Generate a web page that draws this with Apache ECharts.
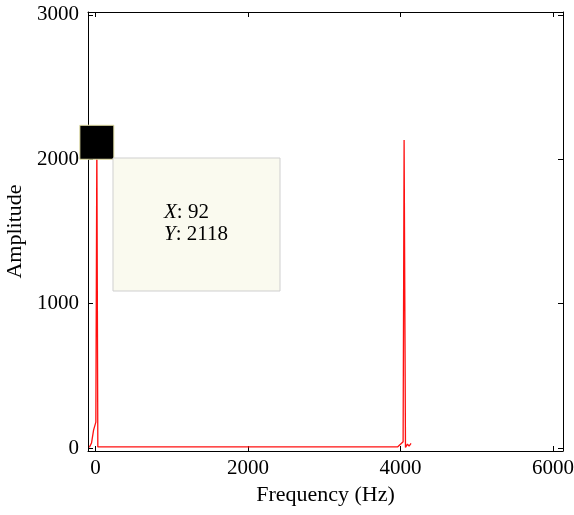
<!DOCTYPE html>
<html>
<head>
<meta charset="utf-8">
<script src="https://cdn.jsdelivr.net/npm/echarts@6/dist/echarts.min.js"></script>
<style>
  html, body { margin: 0; padding: 0; background: #fff; }
  #chart { width: 574px; height: 515px; }
</style>
</head>
<body>
<div id="chart"></div>
<script>
// Spectrum
const freq = [-82, -54, -27, 3, 16, 29, 500, 1000, 1500, 2000, 2500, 3000, 3500, 3900, 3960, 4033, 4046, 4064, 4090, 4111, 4137];
const amp  = [5, 35, 125, 180, 2118, 8, 8, 8, 8, 8, 8, 8, 8, 8, 8, 44, 2134, 5, 28, 14, 33];

// Data cursor
const cursorX = 16;
const cursorY = 2118;

const xTicks = [0, 2000, 4000, 6000];
const yTicks = [0, 1000, 2000, 3000];

const font = 'Liberation Serif';
const chart = echarts.init(document.getElementById('chart'));

const axisBase = {
  axisLine: { show: true, onZero: false, lineStyle: { color: '#000', width: 1 } },
  axisTick: { show: true, inside: true, length: 5, lineStyle: { color: '#000' } },
  splitLine: { show: false }
};

chart.setOption({
  backgroundColor: '#fff',
  animation: false,
  grid: { left: 88, right: 11, top: 12, bottom: 64, outerBoundsMode: 'none', containLabel: false },
  xAxis: [
    Object.assign({}, axisBase, {
      type: 'value', min: -100, max: 6130, position: 'bottom',
      name: 'Frequency (Hz)', nameLocation: 'middle', nameGap: 33,
      nameTextStyle: { fontFamily: font, fontSize: 22, color: '#000' },
      axisTick: Object.assign({}, axisBase.axisTick, { customValues: xTicks }),
      axisLabel: { customValues: xTicks, formatter: v => String(v), fontFamily: font, fontSize: 21, color: '#000', margin: 7 }
    }),
    Object.assign({}, axisBase, {
      type: 'value', min: -100, max: 6130, position: 'top',
      axisTick: Object.assign({}, axisBase.axisTick, { customValues: xTicks }),
      axisLabel: { show: false }
    })
  ],
  yAxis: [
    Object.assign({}, axisBase, {
      type: 'value', min: -20, max: 3020, position: 'left',
      name: 'Amplitude', nameLocation: 'middle', nameGap: 57,
      nameTextStyle: { fontFamily: font, fontSize: 22, color: '#000' },
      axisTick: Object.assign({}, axisBase.axisTick, { customValues: yTicks }),
      axisLabel: { customValues: yTicks, formatter: v => String(v), fontFamily: font, fontSize: 21, color: '#000', margin: 9 }
    }),
    Object.assign({}, axisBase, {
      type: 'value', min: -20, max: 3020, position: 'right',
      axisTick: Object.assign({}, axisBase.axisTick, { customValues: yTicks }),
      axisLabel: { show: false }
    })
  ],
  series: [
    {
      type: 'line',
      data: freq.map((f, i) => [f, amp[i]]),
      showSymbol: false,
      lineStyle: { color: '#ff1010', width: 1.3 },
      z: 2
    },
    {
      type: 'scatter',
      data: [[cursorX, cursorY]],
      symbol: 'rect',
      symbolSize: 34,
      itemStyle: { color: '#000', opacity: 1, borderColor: '#e6e2a8', borderWidth: 1 },
      z: 3
    }
  ],
  graphic: [
    {
      type: 'rect',
      shape: { x: 113, y: 158, width: 167, height: 133 },
      style: { fill: '#fafaef', stroke: '#cfcfcf', lineWidth: 1 },
      z: 10
    },
    {
      type: 'text',
      x: 164, y: 201,
      style: {
        text: '{i|X}{n|: 92}\n{i|Y}{n|: 2118}',
        rich: {
          i: { fontFamily: font, fontSize: 21, fontStyle: 'italic', fill: '#000', lineHeight: 22 },
          n: { fontFamily: font, fontSize: 21, fill: '#000', lineHeight: 22 }
        }
      },
      z: 11
    }
  ]
});
</script>
</body>
</html>
